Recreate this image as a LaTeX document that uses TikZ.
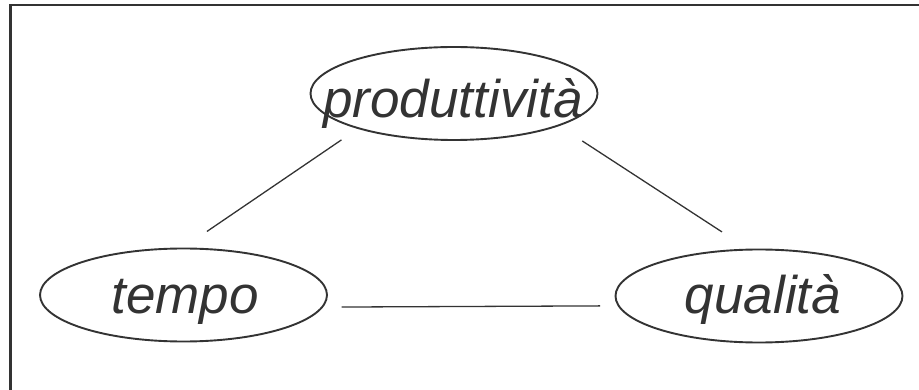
\documentclass[tikz,border=0pt]{standalone}
\usepackage{fontspec}
\setmainfont{Liberation Sans}
\usetikzlibrary{shapes.geometric}
\definecolor{ink}{HTML}{333333}
\tikzset{
  ell/.style={ellipse, draw=ink, line width=1.9pt, inner sep=0pt, outer sep=0pt,
    minimum width=287pt, minimum height=93pt},
  lbl/.style={anchor=base, inner sep=0pt, text=ink, font=\fontsize{53}{60}\selectfont\itshape},
  conn/.style={draw=ink, line width=1.3pt},
  frame/.style={draw=ink, line width=2.6pt}
}
\begin{document}
\begin{tikzpicture}[x=1pt,y=-1pt]
\useasboundingbox (0,0) rectangle (919,390);
\draw[frame] (10.5,5) rectangle (935,405);
\node[ell] (p) at (454,93.5) {};
\node[ell] (t) at (183.5,295) {};
\node[ell] (q) at (759,296) {};
\node[lbl] (pl) at (453,118) {produttività};
\node[lbl] (tl) at (185,313) {tempo};
\node[lbl] (ql) at (763,313) {qualità};
\draw[conn, shorten <=20.7pt, shorten >=30.3pt] (p.200.6) -- (t.92.5);
\draw[conn, shorten <=28.5pt, shorten >=32.4pt] (p.343.9) -- (q.102.5);
\draw[conn, shorten <=19.5pt, shorten >=18.7pt] (t.355.3) -- (q.184.3);
\end{tikzpicture}
\end{document}
